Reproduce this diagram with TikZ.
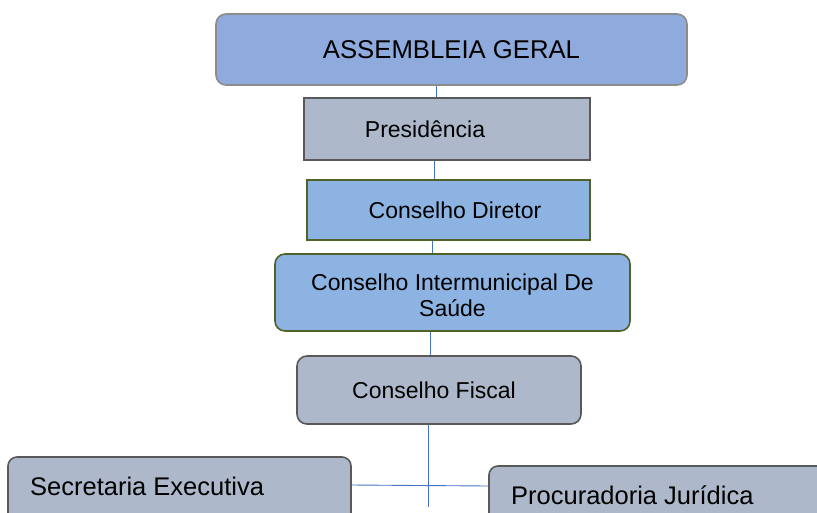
\documentclass[tikz,border=0pt]{standalone}
\usepackage{fontspec}
\setmainfont{Liberation Sans}
\definecolor{azul}{HTML}{8FAADC}
\definecolor{azulclaro}{HTML}{8DB3E2}
\definecolor{cinza}{HTML}{ADB9CA}
\definecolor{oliva}{HTML}{4F6228}
\definecolor{linha}{HTML}{4472C4}
\begin{document}
\begin{tikzpicture}[x=1pt,y=-1pt,
    caixa/.style={draw=black!65,fill=cinza,line width=1.6pt,inner sep=0pt,font=\fontsize{23}{26}\selectfont},
    conselho/.style={caixa,draw=oliva,fill=azulclaro,align=center},
    txt/.style={inner sep=0pt,font=\fontsize{25.5}{28}\selectfont},
    conn/.style={draw=linha,line width=0.9pt}]
                \useasboundingbox (0,0) rectangle (817,512);
                \clip (0,0) rectangle (817,512);
                \node[caixa,draw=black!45,fill=azul,rounded corners=10pt,minimum width=471pt,minimum height=71pt,font=\fontsize{25.7}{28}\selectfont] (asm) at (451.5,49.5) {ASSEMBLEIA GERAL};
                \node[caixa,minimum width=286pt,minimum height=62pt] (pres) at (447,129) {Presid\^encia\hspace*{44pt}};
                \node[conselho,minimum width=283pt,minimum height=60pt] (dir) at (448.5,210) {\hspace*{13pt}Conselho Diretor};
                \node[conselho,rounded corners=10pt,minimum width=355pt,minimum height=77pt] (cis) at (452.5,292.5) {};
                \node[inner sep=0pt,align=center,font=\fontsize{23}{26}\selectfont] (cisT) at (452.5,295.5) {Conselho Intermunicipal De\\Sa\'ude};
                \node[caixa,rounded corners=10pt,minimum width=284pt,minimum height=68pt] (fis) at (439,390) {Conselho Fiscal\hspace*{10pt}};
                \node[caixa,rounded corners=9pt,minimum width=343pt,minimum height=70pt] (sec) at (179.5,492) {};
                \node[caixa,rounded corners=9pt,minimum width=361pt,minimum height=70pt] (proc) at (669.5,501) {};
                \node[txt,anchor=west] (secT) at (30,486) {Secretaria Executiva};
                \node[txt,anchor=west] (procT) at (511,495) {Procuradoria Jur\'idica};
                \coordinate (fim) at (428,507);
                \draw[conn] (asm.south -| 436,0) -- (pres.north -| 436,0);
                \draw[conn] (pres.south -| 434,0) -- (dir.north -| 434,0);
                \draw[conn] (dir.south -| 432,0) -- (cis.north -| 432,0);
                \draw[conn] (cis.south -| 430,0) -- (fis.north -| 430,0);
                \draw[conn] (fis.south -| fim) -- (fim);
                \draw[conn] (sec.east |- 0,485) -- (proc.west |- 0,486);
\end{tikzpicture}
\end{document}
